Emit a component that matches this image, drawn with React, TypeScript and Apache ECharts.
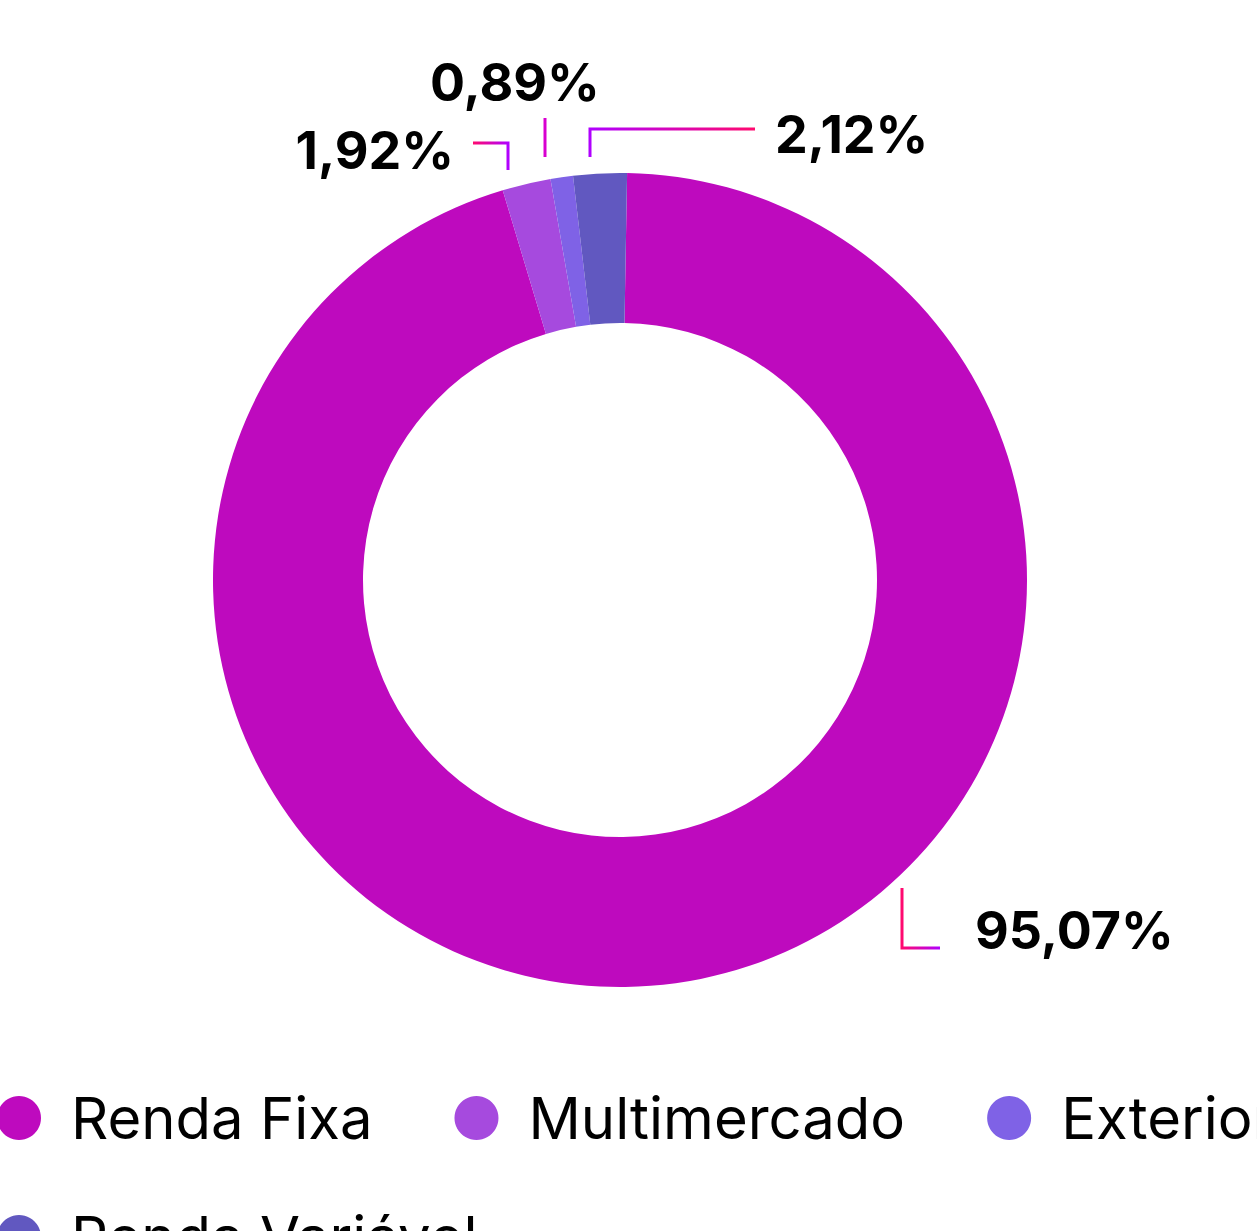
import React, { useEffect, useRef } from "react";
import * as echarts from "echarts";

const categories = ["Renda Fixa", "Multimercado", "Exterior", "Renda Variável"];
const values = [95.07, 1.92, 0.89, 2.12];
const colors = ["#be0abe", "#a64ade", "#7f62e6", "#6158c0"];

const CX = 620;
const CY = 580;

const pinkPurple = () =>
  new echarts.graphic.LinearGradient(0, 0, 1, 0, [
    { offset: 0, color: "#ff0a6e" },
    { offset: 1, color: "#b000ff" },
  ]);
const purplePink = () =>
  new echarts.graphic.LinearGradient(0, 0, 1, 0, [
    { offset: 0, color: "#b000ff" },
    { offset: 1, color: "#ff0a6e" },
  ]);

export default function App() {
  const ref = useRef<HTMLDivElement>(null);
  useEffect(() => {
    if (!ref.current) return;
    const chart = echarts.init(ref.current, undefined, { renderer: "svg" });
    const lineColors = [pinkPurple(), pinkPurple(), "#d800d0", purplePink()];
    chart.setOption({
      animation: false,
      legend: {
        show: true,
        data: categories,
        left: -8,
        top: 1084,
        width: 1340,
        icon: "circle",
        itemWidth: 44,
        itemHeight: 44,
        itemGap: 61,
        textStyle: {
          fontFamily: "Inter",
          fontSize: 58,
          fontWeight: 400,
          color: "#000",
          padding: [0, 21, 0, 25],
          lineHeight: 44,
        },
      },
      series: [
        {
          type: "pie",
          center: [CX, CY],
          radius: [257, 407],
          startAngle: 89,
          clockwise: true,
          avoidLabelOverlap: false,
          data: categories.map((name, i) => ({
            name,
            value: values[i],
            itemStyle: { color: colors[i] },
            labelLine: { lineStyle: { color: lineColors[i], width: 3 } },
          })),
          label: {
            show: true,
            position: "outside",
            formatter: (p: any) => p.value.toFixed(2).replace(".", ",") + "%",
            fontFamily: "Inter",
            fontWeight: 700,
            fontSize: 52,
            color: "#000",
          },
          labelLine: { show: true, length: 10, length2: 10 },
          emphasis: { disabled: true },
          labelLayout: (p: any) => {
            const i = p.dataIndex;
            if (i === 0) {
              return {
                x: CX + 355,
                y: CY + 350,
                align: "left",
                verticalAlign: "middle",
                labelLinePoints: [
                  [CX + 282, CY + 308],
                  [CX + 282, CY + 368],
                  [CX + 320, CY + 368],
                ],
              };
            }
            if (i === 1) {
              return {
                x: CX - 166,
                y: CY - 430,
                align: "right",
                verticalAlign: "middle",
                labelLinePoints: [
                  [CX - 147, CY - 437],
                  [CX - 112, CY - 437],
                  [CX - 112, CY - 410],
                ],
              };
            }
            if (i === 2) {
              return {
                x: CX - 105,
                y: CY - 498,
                align: "center",
                verticalAlign: "middle",
                labelLinePoints: [
                  [CX - 75, CY - 423],
                  [CX - 75, CY - 443],
                  [CX - 75, CY - 462],
                ],
              };
            }
            return {
              x: CX + 155,
              y: CY - 446,
              align: "left",
              verticalAlign: "middle",
              labelLinePoints: [
                [CX - 30, CY - 423],
                [CX - 30, CY - 451],
                [CX + 135, CY - 451],
              ],
            };
          },
        },
      ],
    });
    return () => chart.dispose();
  }, []);
  return (
    <div
      style={{
        position: "fixed",
        left: 0,
        top: 0,
        width: 1257,
        height: 1231,
        overflow: "hidden",
        background: "#fff",
      }}
    >
      <div ref={ref} style={{ width: 1400, height: 1231 }} />
    </div>
  );
}
